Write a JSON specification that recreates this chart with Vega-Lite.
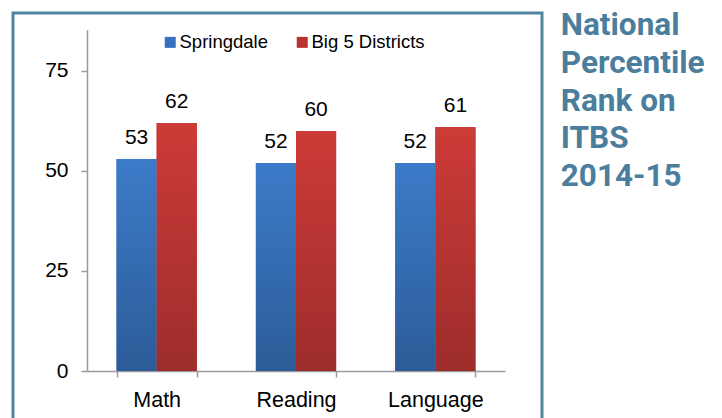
{
  "$schema": "https://vega.github.io/schema/vega-lite/v6.json",
  "width": 529,
  "height": 405,
  "autosize": {"type": "none"},
  "padding": {"left": 13, "top": 13, "right": 180, "bottom": 0},
  "background": "white",
  "title": {
    "text": ["National", "Percentile", "Rank on", "ITBS", "2014-15"],
    "orient": "right",
    "anchor": "start",
    "angle": 0,
    "align": "left",
    "baseline": "top",
    "frame": "group",
    "offset": -125,
    "dy": -3,
    "font": "Roboto",
    "fontWeight": "bold",
    "fontSize": 31.5,
    "lineHeight": 37.75,
    "color": "#4a7e9c"
  },
  "data": {
    "values": [
      {"subject": "Math", "series": "Springdale", "value": 53},
      {"subject": "Math", "series": "Big 5 Districts", "value": 62},
      {"subject": "Reading", "series": "Springdale", "value": 52},
      {"subject": "Reading", "series": "Big 5 Districts", "value": 60},
      {"subject": "Language", "series": "Springdale", "value": 52},
      {"subject": "Language", "series": "Big 5 Districts", "value": 61}
    ]
  },
  "encoding": {
    "x": {
      "field": "subject",
      "type": "nominal",
      "sort": ["Math", "Reading", "Language"],
      "scale": {"range": [74, 492], "paddingInner": 0.424, "paddingOuter": 0.212},
      "axis": {
        "title": null,
        "labelAngle": 0,
        "offset": -47,
        "tickBand": "extent",
        "tickSize": 6,
        "labelPadding": 12,
        "labelFont": "Liberation Sans",
        "labelFontSize": 21.5,
        "labelColor": "#000000",
        "domainColor": "#9a9a9a",
        "tickColor": "#9a9a9a",
        "domainWidth": 1.5,
        "tickWidth": 1.5
      }
    },
    "xOffset": {
      "field": "series",
      "type": "nominal",
      "sort": ["Springdale", "Big 5 Districts"],
      "scale": {"paddingInner": 0, "paddingOuter": 0}
    },
    "y": {
      "field": "value",
      "type": "quantitative",
      "scale": {"domain": [0, 85.3], "range": [358, 16.7], "nice": false, "zero": true},
      "axis": {
        "title": null,
        "values": [0, 25, 50, 75],
        "offset": -74,
        "grid": false,
        "tickSize": 6,
        "labelPadding": 13,
        "labelFont": "Liberation Sans",
        "labelFontSize": 21,
        "labelColor": "#000000",
        "domainColor": "#9a9a9a",
        "tickColor": "#9a9a9a",
        "domainWidth": 1.5,
        "tickWidth": 1.5
      }
    }
  },
  "layer": [
    {
      "mark": {"type": "bar"},
      "encoding": {
        "color": {
          "field": "series",
          "type": "nominal",
          "sort": ["Springdale", "Big 5 Districts"],
          "scale": {"domain": ["Springdale", "Big 5 Districts"], "range": ["#3571be", "#b8332f"]},
          "legend": {
            "title": null,
            "orient": "none",
            "direction": "horizontal",
            "legendX": 148,
            "legendY": 20,
            "padding": 0,
            "symbolType": "square",
            "symbolSize": 121,
            "symbolStrokeWidth": 0,
            "labelFont": "Liberation Sans",
            "labelFontSize": 18.5,
            "labelColor": "#000000",
            "labelOffset": 0,
            "columnPadding": 25
          }
        }
      }
    },
    {
      "transform": [{"filter": "datum.series === 'Springdale'"}],
      "mark": {
        "type": "bar",
        "color": {
          "gradient": "linear", "x1": 0, "y1": 0, "x2": 0, "y2": 1,
          "stops": [{"offset": 0, "color": "#3c7bc9"}, {"offset": 1, "color": "#2c5c98"}]
        }
      }
    },
    {
      "transform": [{"filter": "datum.series === 'Big 5 Districts'"}],
      "mark": {
        "type": "bar",
        "color": {
          "gradient": "linear", "x1": 0, "y1": 0, "x2": 0, "y2": 1,
          "stops": [{"offset": 0, "color": "#cd3b38"}, {"offset": 1, "color": "#9d2d2b"}]
        }
      }
    },
    {
      "mark": {"type": "text", "baseline": "alphabetic", "dy": -15, "font": "Liberation Sans", "fontSize": 21, "color": "#000000"},
      "encoding": {"text": {"field": "value", "type": "quantitative"}}
    }
  ],
  "config": {
    "view": {"stroke": "#4f84a0", "strokeWidth": 3, "strokeDash": [934, 529, 500], "fill": "white"}
  }
}
